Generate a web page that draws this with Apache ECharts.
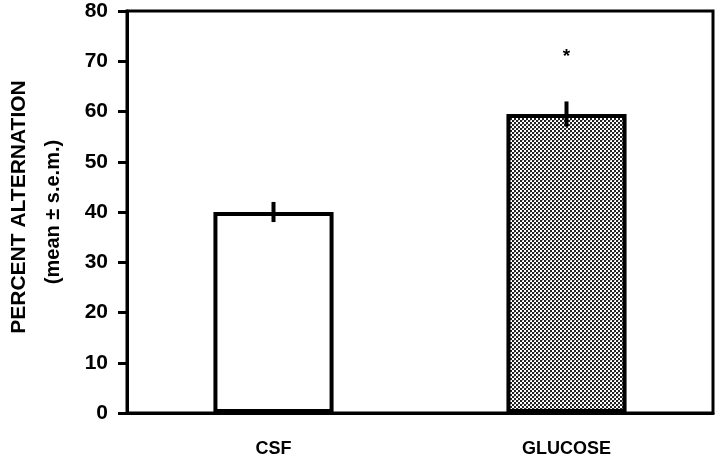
<!DOCTYPE html>
<html>
<head>
<meta charset="utf-8">
<script src="https://cdn.jsdelivr.net/npm/echarts@6/dist/echarts.min.js"></script>
<style>
  html, body { margin: 0; padding: 0; background: #fff; }
  #container { width: 720px; height: 460px; }
</style>
</head>
<body>
<div id="container"></div>
<script>
var dom = document.getElementById('container');
var myChart = echarts.init(dom, null, { renderer: 'canvas' });

// data
var groups = ['CSF', 'GLUCOSE'];
var means = [40, 59.5];
var sems = [2, 2.5];
var marks = ['', '*'];
var yTicks = [0, 10, 20, 30, 40, 50, 60, 70, 80];

var FONT = '"Liberation Sans", Arial, sans-serif';

// dotted fill for the glucose bar
var pat = document.createElement('canvas');
pat.width = 4; pat.height = 4;
var pc = pat.getContext('2d');
pc.fillStyle = '#ffffff';
pc.fillRect(0, 0, 4, 4);
pc.fillStyle = '#222222';
pc.fillRect(0, 0, 2, 2);
pc.fillRect(2, 2, 2, 2);
pc.fillStyle = '#bbbbbb';
pc.fillRect(2, 0, 1, 1);

var fills = ['#ffffff', { image: pat, repeat: 'repeat' }];

var errData = groups.map(function (g, i) {
    return [i, means[i] - sems[i], means[i] + sems[i]];
});
var starData = [];
groups.forEach(function (g, i) {
    if (marks[i]) starData.push([i, 70.8]);
});

var option = {
    backgroundColor: '#ffffff',
    animation: false,
    grid: {
        left: 127, right: 7, top: 11, bottom: 47,
        show: true, borderColor: '#000', borderWidth: 3
    },
    xAxis: {
        type: 'category',
        data: groups,
        axisLine: { lineStyle: { color: '#000', width: 3 } },
        axisTick: { show: false },
        axisLabel: {
            color: '#000', fontSize: 18, fontWeight: 'bold',
            fontFamily: FONT, margin: 27
        }
    },
    yAxis: {
        type: 'value',
        min: yTicks[0],
        max: yTicks[yTicks.length - 1],
        interval: 10,
        splitLine: { show: false },
        axisLine: { show: true, lineStyle: { color: '#000', width: 3 } },
        axisTick: { show: true, length: 9, lineStyle: { color: '#000', width: 3 } },
        axisLabel: {
            color: '#000', fontSize: 21, fontWeight: 'bold',
            fontFamily: FONT, margin: 19
        }
    },
    graphic: [
        {
            type: 'text', rotation: Math.PI / 2, x: 19, y: 207,
            style: {
                text: 'PERCENT ALTERNATION', fill: '#000',
                font: 'bold 21px ' + FONT,
                align: 'center', verticalAlign: 'middle'
            }
        },
        {
            type: 'text', rotation: Math.PI / 2, x: 53, y: 212,
            style: {
                text: '(mean \u00b1 s.e.m.)', fill: '#000',
                font: 'bold 20px ' + FONT,
                align: 'center', verticalAlign: 'middle'
            }
        }
    ],
    series: [
        {
            type: 'bar',
            data: means.map(function (v, i) {
                return { value: v, itemStyle: { color: fills[i] } };
            }),
            barWidth: '41%',
            itemStyle: { borderColor: '#000', borderWidth: 4 },
            z: 2
        },
        {
            type: 'custom',
            data: errData,
            z: 3,
            renderItem: function (params, api) {
                var lo = api.coord([api.value(0), api.value(1)]);
                var hi = api.coord([api.value(0), api.value(2)]);
                return {
                    type: 'line',
                    shape: { x1: lo[0], y1: lo[1], x2: hi[0], y2: hi[1] },
                    style: { stroke: '#000', lineWidth: 4 }
                };
            }
        },
        {
            type: 'custom',
            data: starData,
            z: 3,
            renderItem: function (params, api) {
                var p = api.coord([api.value(0), api.value(1)]);
                return {
                    type: 'text',
                    x: p[0], y: p[1],
                    style: {
                        text: marks[api.value(0)], fill: '#000',
                        font: 'bold 19px ' + FONT,
                        align: 'center', verticalAlign: 'middle'
                    }
                };
            }
        }
    ]
};

myChart.setOption(option);
window.addEventListener('resize', myChart.resize);
</script>
</body>
</html>
